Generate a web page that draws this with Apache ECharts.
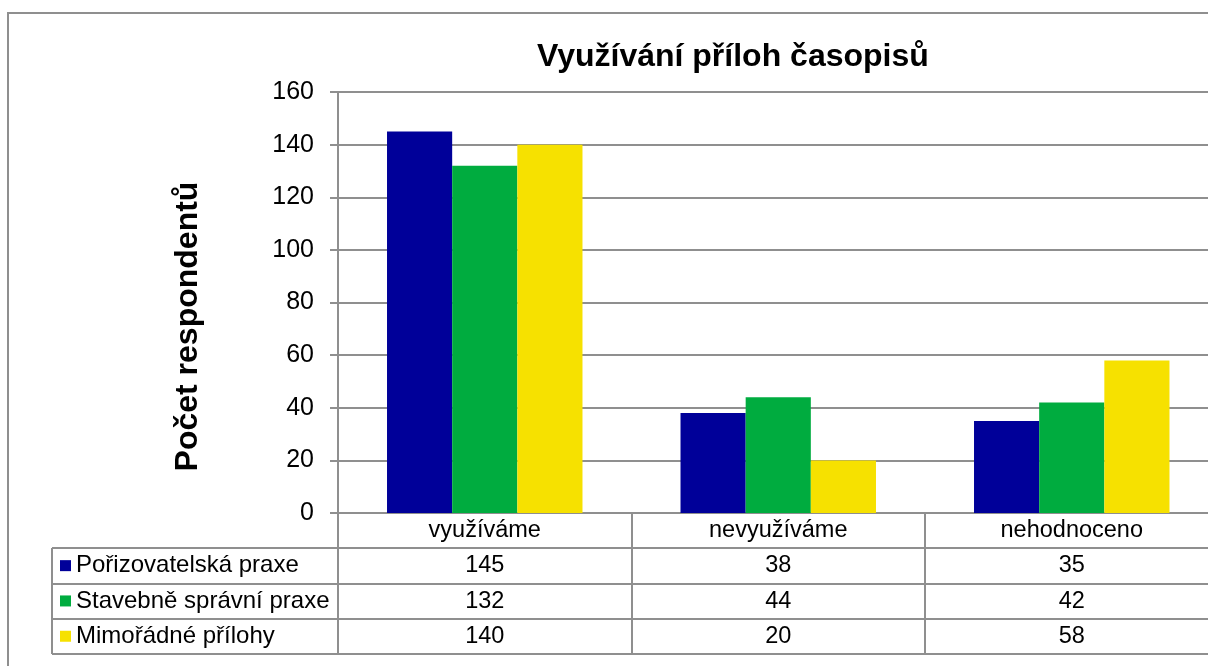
<!DOCTYPE html>
<html>
<head>
<meta charset="utf-8">
<script src="https://cdn.jsdelivr.net/npm/echarts@6/dist/echarts.min.js"></script>
<style>
html,body{margin:0;padding:0;background:#fff;overflow:hidden;}
#main{width:1230px;height:666px;}
</style>
</head>
<body>
<div id="main"></div>
<script>
var categories = ['využíváme', 'nevyužíváme', 'nehodnoceno'];
var seriesNames = ['Pořizovatelská praxe', 'Stavebně správní praxe', 'Mimořádné přílohy'];
var poriz = [145, 38, 35];
var staveb = [132, 44, 42];
var mimor = [140, 20, 58];
var yTicks = [0, 20, 40, 60, 80, 100, 120, 140, 160];
var colors = ['#000099', '#00AC3F', '#F6E100'];

var FONT = 'Liberation Sans, Arial, sans-serif';
var GRAY = '#8f8f8f';
var allValues = [poriz, staveb, mimor];

var myChart = echarts.init(document.getElementById('main'));

// texty tabulky pod osou x (kategorie + hodnoty)
function tableLabel(value, index) {
    var s = '{c|' + value + '}';
    allValues.forEach(function (arr) {
        s += '\n{v|' + arr[index] + '}';
    });
    return s;
}

var seriesData = [];
seriesNames.forEach(function (name, i) {
    seriesData.push({
        name: name,
        type: 'bar',
        data: allValues[i],
        barGap: 0,
        barCategoryGap: '33.4%',
        itemStyle: { color: colors[i] }
    });
});

var option = {
    animation: false,
    textStyle: { fontFamily: FONT },
    title: {
        text: 'Využívání příloh časopisů',
        left: 537,
        top: 41,
        padding: 0,
        textStyle: { fontSize: 32, fontWeight: 'bold', color: '#000', fontFamily: FONT }
    },
    legend: {
        orient: 'vertical',
        left: 60,
        top: 548,
        padding: 0,
        itemGap: 0,
        itemWidth: 11,
        itemHeight: 11,
        icon: 'rect',
        selectedMode: false,
        data: seriesNames,
        textStyle: { fontSize: 24, color: '#000', lineHeight: 35.3, fontFamily: FONT, padding: [0, 0, 0, 0] }
    },
    grid: {
        left: 338,
        top: 92,
        width: 880.5,
        height: 421,
        containLabel: false
    },
    xAxis: {
        type: 'category',
        data: categories,
        axisLine: { show: true, lineStyle: { color: GRAY, width: 2 } },
        axisTick: { show: true, length: 141, interval: 0, alignWithLabel: false, lineStyle: { color: GRAY, width: 2 } },
        axisLabel: {
            interval: 0,
            margin: 0,
            formatter: tableLabel,
            rich: {
                c: { fontSize: 23.5, lineHeight: 35.3, color: '#000', fontFamily: FONT },
                v: { fontSize: 23.5, lineHeight: 35.3, color: '#000', fontFamily: FONT }
            }
        }
    },
    yAxis: {
        type: 'value',
        min: yTicks[0],
        max: yTicks[yTicks.length - 1],
        interval: 20,
        name: 'Počet respondentů',
        nameLocation: 'middle',
        nameRotate: 90,
        nameGap: 134,
        nameTextStyle: { fontSize: 32, fontWeight: 'bold', color: '#000', fontFamily: FONT, padding: [0, 48, 0, 0] },
        axisLine: { show: true, lineStyle: { color: GRAY, width: 2 } },
        axisTick: { show: true, length: 8, lineStyle: { color: GRAY, width: 2 } },
        axisLabel: { fontSize: 25, color: '#000', margin: 24, fontFamily: FONT },
        splitLine: { show: true, lineStyle: { color: GRAY, width: 2 } }
    },
    series: seriesData
};

myChart.setOption(option);

// mřížka tabulky a rámeček
var rowLines = [548, 584, 619, 654];
var graphics = [{
    type: 'rect',
    shape: { x: 8, y: 13, width: 1400, height: 800 },
    style: { fill: null, stroke: GRAY, lineWidth: 2 },
    silent: true
}, {
    type: 'line',
    shape: { x1: 52, y1: 548, x2: 52, y2: 654 },
    style: { stroke: GRAY, lineWidth: 2 },
    silent: true
}];
rowLines.forEach(function (y) {
    graphics.push({
        type: 'line',
        shape: { x1: 52, y1: y, x2: 1230, y2: y },
        style: { stroke: GRAY, lineWidth: 2 },
        silent: true
    });
});
myChart.setOption({ graphic: graphics });
</script>
</body>
</html>
